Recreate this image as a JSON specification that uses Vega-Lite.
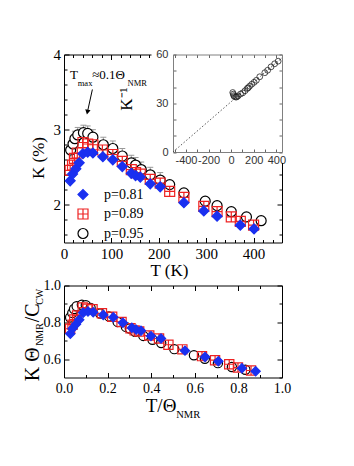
{
"$schema": "https://vega.github.io/schema/vega-lite/v6.json",
"background": "white",
"padding": {"left": 22, "top": 47.5, "right": 5, "bottom": 5},
"autosize": {"type": "pad"},
"spacing": 43,
"bounds": "flush",
"datasets": {
"main": [
{"p":"p=0.95","T":14,"K":2.73},{"p":"p=0.95","T":19,"K":2.81},{"p":"p=0.95","T":23,"K":2.88},{"p":"p=0.95","T":29,"K":2.93},{"p":"p=0.95","T":41,"K":2.96},{"p":"p=0.95","T":50,"K":2.95},{"p":"p=0.95","T":61,"K":2.90},{"p":"p=0.95","T":83,"K":2.80},{"p":"p=0.95","T":103,"K":2.75},{"p":"p=0.95","T":123,"K":2.65},{"p":"p=0.95","T":142,"K":2.56},{"p":"p=0.95","T":151,"K":2.53},{"p":"p=0.95","T":163,"K":2.47},{"p":"p=0.95","T":182,"K":2.40},{"p":"p=0.95","T":203,"K":2.33},{"p":"p=0.95","T":223,"K":2.27},{"p":"p=0.95","T":253,"K":2.16},{"p":"p=0.95","T":298,"K":2.05},{"p":"p=0.95","T":323,"K":1.99},{"p":"p=0.95","T":353,"K":1.91},{"p":"p=0.95","T":385,"K":1.84},{"p":"p=0.95","T":416,"K":1.79},
{"p":"p=0.89","T":13,"K":2.46},{"p":"p=0.89","T":18,"K":2.53},{"p":"p=0.89","T":22,"K":2.62},{"p":"p=0.89","T":28,"K":2.69},{"p":"p=0.89","T":40,"K":2.83},{"p":"p=0.89","T":50,"K":2.81},{"p":"p=0.89","T":61,"K":2.80},{"p":"p=0.89","T":81,"K":2.73},{"p":"p=0.89","T":103,"K":2.67},{"p":"p=0.89","T":123,"K":2.58},{"p":"p=0.89","T":142,"K":2.47},{"p":"p=0.89","T":151,"K":2.43},{"p":"p=0.89","T":161,"K":2.41},{"p":"p=0.89","T":182,"K":2.34},{"p":"p=0.89","T":203,"K":2.29},{"p":"p=0.89","T":223,"K":2.18},{"p":"p=0.89","T":253,"K":2.10},{"p":"p=0.89","T":295,"K":1.98},{"p":"p=0.89","T":323,"K":1.91},{"p":"p=0.89","T":353,"K":1.84},{"p":"p=0.89","T":372,"K":1.78},{"p":"p=0.89","T":400,"K":1.73},
{"p":"p=0.81","T":13,"K":2.32},{"p":"p=0.81","T":18,"K":2.41},{"p":"p=0.81","T":25,"K":2.48},{"p":"p=0.81","T":32,"K":2.56},{"p":"p=0.81","T":40,"K":2.68},{"p":"p=0.81","T":50,"K":2.70},{"p":"p=0.81","T":61,"K":2.69},{"p":"p=0.81","T":82,"K":2.64},{"p":"p=0.81","T":103,"K":2.60},{"p":"p=0.81","T":123,"K":2.51},{"p":"p=0.81","T":142,"K":2.42},{"p":"p=0.81","T":151,"K":2.39},{"p":"p=0.81","T":161,"K":2.37},{"p":"p=0.81","T":182,"K":2.28},{"p":"p=0.81","T":203,"K":2.24},{"p":"p=0.81","T":253,"K":2.03},{"p":"p=0.81","T":295,"K":1.92},{"p":"p=0.81","T":323,"K":1.85},{"p":"p=0.81","T":372,"K":1.73},{"p":"p=0.81","T":401,"K":1.68}
],
"err": [
{"T":14,"lo":2.63,"hi":2.83},{"T":19,"lo":2.71,"hi":2.91},{"T":23,"lo":2.78,"hi":2.98},{"T":29,"lo":2.83,"hi":3.03},{"T":41,"lo":2.86,"hi":3.06},{"T":50,"lo":2.85,"hi":3.05},{"T":61,"lo":2.80,"hi":3.00},{"T":83,"lo":2.70,"hi":2.90},{"T":103,"lo":2.65,"hi":2.85},{"T":123,"lo":2.55,"hi":2.75},{"T":142,"lo":2.46,"hi":2.66},{"T":151,"lo":2.43,"hi":2.63},{"T":163,"lo":2.37,"hi":2.57},{"T":182,"lo":2.30,"hi":2.50},{"T":203,"lo":2.23,"hi":2.43}
],
"scaled": [
{"p":"p=0.95","x":0.028,"y":0.826},{"p":"p=0.95","x":0.038,"y":0.851},{"p":"p=0.95","x":0.046,"y":0.872},{"p":"p=0.95","x":0.058,"y":0.887},{"p":"p=0.95","x":0.082,"y":0.896},{"p":"p=0.95","x":0.100,"y":0.893},{"p":"p=0.95","x":0.122,"y":0.878},{"p":"p=0.95","x":0.166,"y":0.848},{"p":"p=0.95","x":0.206,"y":0.832},{"p":"p=0.95","x":0.246,"y":0.802},{"p":"p=0.95","x":0.284,"y":0.775},{"p":"p=0.95","x":0.302,"y":0.766},{"p":"p=0.95","x":0.326,"y":0.748},{"p":"p=0.95","x":0.364,"y":0.726},{"p":"p=0.95","x":0.406,"y":0.705},{"p":"p=0.95","x":0.446,"y":0.687},{"p":"p=0.95","x":0.506,"y":0.654},{"p":"p=0.95","x":0.596,"y":0.621},{"p":"p=0.95","x":0.646,"y":0.602},{"p":"p=0.95","x":0.706,"y":0.578},{"p":"p=0.95","x":0.770,"y":0.557},{"p":"p=0.95","x":0.832,"y":0.542},
{"p":"p=0.89","x":0.028,"y":0.765},{"p":"p=0.89","x":0.039,"y":0.787},{"p":"p=0.89","x":0.047,"y":0.815},{"p":"p=0.89","x":0.060,"y":0.837},{"p":"p=0.89","x":0.086,"y":0.880},{"p":"p=0.89","x":0.107,"y":0.874},{"p":"p=0.89","x":0.131,"y":0.871},{"p":"p=0.89","x":0.174,"y":0.849},{"p":"p=0.89","x":0.221,"y":0.830},{"p":"p=0.89","x":0.264,"y":0.802},{"p":"p=0.89","x":0.305,"y":0.768},{"p":"p=0.89","x":0.324,"y":0.756},{"p":"p=0.89","x":0.345,"y":0.750},{"p":"p=0.89","x":0.391,"y":0.728},{"p":"p=0.89","x":0.436,"y":0.712},{"p":"p=0.89","x":0.479,"y":0.678},{"p":"p=0.89","x":0.543,"y":0.653},{"p":"p=0.89","x":0.633,"y":0.616},{"p":"p=0.89","x":0.693,"y":0.594},{"p":"p=0.89","x":0.758,"y":0.572},{"p":"p=0.89","x":0.798,"y":0.554},{"p":"p=0.89","x":0.858,"y":0.538},
{"p":"p=0.81","x":0.029,"y":0.738},{"p":"p=0.81","x":0.039,"y":0.766},{"p":"p=0.81","x":0.055,"y":0.789},{"p":"p=0.81","x":0.070,"y":0.814},{"p":"p=0.81","x":0.088,"y":0.852},{"p":"p=0.81","x":0.110,"y":0.859},{"p":"p=0.81","x":0.134,"y":0.855},{"p":"p=0.81","x":0.180,"y":0.840},{"p":"p=0.81","x":0.226,"y":0.827},{"p":"p=0.81","x":0.270,"y":0.798},{"p":"p=0.81","x":0.311,"y":0.770},{"p":"p=0.81","x":0.331,"y":0.760},{"p":"p=0.81","x":0.353,"y":0.754},{"p":"p=0.81","x":0.399,"y":0.725},{"p":"p=0.81","x":0.445,"y":0.712},{"p":"p=0.81","x":0.555,"y":0.646},{"p":"p=0.81","x":0.647,"y":0.611},{"p":"p=0.81","x":0.708,"y":0.588},{"p":"p=0.81","x":0.816,"y":0.550},{"p":"p=0.81","x":0.879,"y":0.534}
],
"inv": [
{"T":14,"Kinv":36.6},{"T":19,"Kinv":35.6},{"T":23,"Kinv":34.7},{"T":29,"Kinv":34.1},{"T":41,"Kinv":33.8},{"T":50,"Kinv":33.9},{"T":61,"Kinv":34.5},{"T":83,"Kinv":35.7},{"T":103,"Kinv":36.4},{"T":123,"Kinv":37.7},{"T":142,"Kinv":39.1},{"T":151,"Kinv":39.5},{"T":163,"Kinv":40.5},{"T":182,"Kinv":41.7},{"T":203,"Kinv":42.9},{"T":223,"Kinv":44.1},{"T":253,"Kinv":46.3},{"T":298,"Kinv":48.8},{"T":323,"Kinv":50.3},{"T":353,"Kinv":52.4},{"T":385,"Kinv":54.3},{"T":416,"Kinv":55.9}
],
"fit": [{"T":-515,"Kinv":0},{"T":450,"Kinv":58}],
"ann": [
{"text":"T","role":"main","T":12.6,"K":3.681},
{"text":"max","role":"sub","T":29,"K":3.581},
{"text":"≈0.1Θ","role":"main","T":59.5,"K":3.681},
{"text":"NMR","role":"sub","T":134,"K":3.581}
],
"arrow": [{"T":59.9,"K":3.535,"T2":49.6,"K2":3.24}],
"head": [{"T":49.4,"K":3.234}],
"ytitle": [
{"text":"K Θ","role":"main","x":-0.115,"y":0.480},
{"text":"NMR","role":"sub","x":-0.096,"y":0.672},
{"text":"/C","role":"main","x":-0.115,"y":0.800},
{"text":"CW","role":"sub","x":-0.096,"y":0.895}
],
"xtitle": [
{"text":"T/Θ","role":"main","x":0.375,"y":0.312},
{"text":"NMR","role":"sub","x":0.515,"y":0.282}
]
},
"vconcat": [
{
"width": 218, "height": 188,
"layer": [
{
"layer": [
{"data":{"name":"err"},"mark":{"type":"rule","color":"#999999","strokeWidth":1},
"encoding":{
"x":{"field":"T","type":"quantitative","scale":{"domain":[0,460],"nice":false,"zero":false},"axis":{"orient":"bottom","values":[0,100,200,300,400],"tickSize":-5,"labelPadding":9,"domain":true,"title":"T (K)","titlePadding":1,"titleX":105}},
"y":{"field":"lo","type":"quantitative","scale":{"domain":[1.5,4],"nice":false,"zero":false},"axis":{"orient":"left","values":[2,3,4],"tickSize":-5,"labelPadding":8.5,"domain":true,"title":"K (%)","titlePadding":6,"titleY":103}},
"y2":{"field":"hi"}}},
{"data":{"name":"err"},"mark":{"type":"point","shape":"stroke","size":36,"stroke":"#999999","strokeWidth":1,"opacity":1},
"encoding":{
"x":{"field":"T","type":"quantitative","scale":{"domain":[0,460],"nice":false,"zero":false},"axis":null},
"y":{"field":"hi","type":"quantitative","scale":{"domain":[1.5,4],"nice":false,"zero":false},"axis":null}}},
{"data":{"name":"main"},"mark":{"type":"point","opacity":1,"strokeWidth":1.2,"size":100},
"encoding":{
"x":{"field":"T","type":"quantitative","scale":{"domain":[0,460],"nice":false,"zero":false},"axis":{"orient":"bottom","values":[20,40,60,80,120,140,160,180,220,240,260,280,320,340,360,380,420,440],"tickSize":-3,"labels":false,"domain":false,"title":null}},
"y":{"field":"K","type":"quantitative","scale":{"domain":[1.5,4],"nice":false,"zero":false},"axis":{"orient":"left","values":[1.6,1.8,2.2,2.4,2.6,2.8,3.2,3.4,3.6,3.8],"tickSize":-3,"labels":false,"domain":false,"title":null}},
"shape":{"field":"p","type":"nominal","scale":{"domain":["p=0.81","p=0.89","p=0.95"],"range":["diamond","M-1,-1H1V1H-1Z M0,-1V1 M-1,0H1","circle"]},"legend":{"orient":"none","legendX":12,"legendY":133,"title":null,"padding":0,"rowPadding":3.5,"labelOffset":14,"labelFontSize":14,"labelFont":"Liberation Serif","labelColor":"#000","symbolStrokeWidth":1.2,"symbolSize":100}},
"fill":{"field":"p","type":"nominal","scale":{"domain":["p=0.81","p=0.89","p=0.95"],"range":["#1a30f0","transparent","#ffffff"]},"legend":{"orient":"none","legendX":12,"legendY":133,"title":null,"padding":0,"rowPadding":3.5,"labelOffset":14,"labelFontSize":14,"labelFont":"Liberation Serif","labelColor":"#000","symbolStrokeWidth":1.2,"symbolSize":100}},
"stroke":{"field":"p","type":"nominal","scale":{"domain":["p=0.81","p=0.89","p=0.95"],"range":["#1a30f0","#ee2222","#000000"]},"legend":{"orient":"none","legendX":12,"legendY":133,"title":null,"padding":0,"rowPadding":3.5,"labelOffset":14,"labelFontSize":14,"labelFont":"Liberation Serif","labelColor":"#000","symbolStrokeWidth":1.2,"symbolSize":100}}}},
{"data":{"name":"arrow"},"mark":{"type":"rule","color":"#000","strokeWidth":1},
"encoding":{
"x":{"field":"T","type":"quantitative","scale":{"domain":[0,460],"nice":false,"zero":false},"axis":null},
"y":{"field":"K","type":"quantitative","scale":{"domain":[1.5,4],"nice":false,"zero":false},"axis":null},
"x2":{"field":"T2"},"y2":{"field":"K2"}}},
{"data":{"name":"head"},"mark":{"type":"point","shape":"triangle-down","size":30,"filled":true,"color":"#000","opacity":1,"angle":12},
"encoding":{
"x":{"field":"T","type":"quantitative","scale":{"domain":[0,460],"nice":false,"zero":false},"axis":null},
"y":{"field":"K","type":"quantitative","scale":{"domain":[1.5,4],"nice":false,"zero":false},"axis":null}}}
],
"resolve":{"axis":{"x":"independent","y":"independent"}}
},
{
"layer": [
{"data":{"name":"fit"},"mark":{"type":"line","color":"#444","strokeWidth":0.9,"strokeDash":[1.5,2]},
"encoding":{
"x":{"field":"T","type":"quantitative","scale":{"domain":[-515,450],"range":[109,218],"nice":false,"zero":false},"axis":{"orient":"bottom","offset":-90.5,"values":[-500,-400,-300,-200,-100,0,100,200,300,400],"labelExpr":"datum.value % 200 === 0 ? toString(datum.value) : ''","tickSize":-3,"labelPadding":5,"labelFont":"Liberation Sans","labelFontSize":11,"labelColor":"#333","tickColor":"#666","domain":true,"domainColor":"#808080","title":null}},
"y":{"field":"Kinv","type":"quantitative","scale":{"domain":[0,60],"range":[97.5,0],"nice":false,"zero":false},"axis":{"orient":"left","offset":-109,"values":[0,10,20,30,40,50,60],"labelExpr":"datum.value % 30 === 0 ? toString(datum.value) : ''","tickSize":-3,"labelPadding":8,"labelFont":"Liberation Sans","labelFontSize":11,"labelColor":"#333","tickColor":"#666","domain":true,"domainColor":"#808080","title":"K⁻¹","titleFontSize":17,"titleX":-38,"titleY":44}}}},
{"data":{"name":"inv"},"mark":{"type":"point","size":34,"stroke":"#222","strokeWidth":0.8,"opacity":1},
"encoding":{
"x":{"field":"T","type":"quantitative","scale":{"domain":[-515,450],"range":[109,218],"nice":false,"zero":false},"axis":{"orient":"top","values":[-500,-400,-300,-200,-100,0,100,200,300,400],"tickSize":-3,"labels":false,"tickColor":"#666","domain":true,"domainColor":"#808080","title":null}},
"y":{"field":"Kinv","type":"quantitative","scale":{"domain":[0,60],"range":[97.5,0],"nice":false,"zero":false},"axis":{"orient":"right","values":[0,10,20,30,40,50,60],"tickSize":-3,"labels":false,"tickColor":"#666","domain":true,"domainColor":"#808080","title":null}}}}
],
"resolve":{"axis":{"x":"independent","y":"independent"}}
},
{"data":{"name":"ann"},"mark":{"type":"text","align":"left","baseline":"alphabetic","font":"Liberation Serif","color":"#000"},
"encoding":{
"x":{"field":"T","type":"quantitative","scale":{"domain":[0,183.5],"range":[0,87],"nice":false,"zero":false},"axis":{"orient":"top","values":[0,20,40,60,80,100,120,140,160,180],"tickSize":{"condition":{"test":"datum.value % 100 === 0","value":-5},"value":-3},"labels":false,"domain":true,"title":null}},
"y":{"field":"K","type":"quantitative","scale":{"domain":[1.5,2.564],"range":[188,108],"nice":false,"zero":false},"axis":{"orient":"right","values":[1.6,1.8,2,2.2,2.4],"tickSize":{"condition":{"test":"abs(datum.value - 2) < 0.01","value":-5},"value":-3},"labels":false,"domain":true,"title":null}},
"text":{"field":"text"},
"size":{"field":"role","type":"ordinal","scale":{"domain":["main","sub"],"range":[13,8.5]},"legend":null}}}
],
"resolve":{"scale":{"x":"independent","y":"independent"},"axis":{"x":"independent","y":"independent"}}
},
{
"width": 218, "height": 92,
"layer": [
{"data":{"name":"scaled"},"mark":{"type":"point","opacity":1,"strokeWidth":1.2,"size":85},
"encoding":{
"x":{"field":"x","type":"quantitative","scale":{"domain":[0,1],"nice":false,"zero":false},"axis":{"orient":"bottom","values":[0,0.2,0.4,0.6,0.8,1],"format":".1f","tickSize":-5,"labelPadding":8.5,"labelFontSize":14,"domain":true,"title":null}},
"y":{"field":"y","type":"quantitative","scale":{"domain":[0.5,1],"nice":false,"zero":false},"axis":{"orient":"left","values":[0.6,0.8,1],"format":".1f","tickSize":-5,"labelPadding":8.5,"labelFontSize":14,"domain":true,"title":null}},
"shape":{"field":"p","type":"nominal","scale":{"domain":["p=0.81","p=0.89","p=0.95"],"range":["diamond","M-1,-1H1V1H-1Z M0,-1V1 M-1,0H1","circle"]},"legend":null},
"fill":{"field":"p","type":"nominal","scale":{"domain":["p=0.81","p=0.89","p=0.95"],"range":["#1a30f0","transparent","#ffffff"]},"legend":null},
"stroke":{"field":"p","type":"nominal","scale":{"domain":["p=0.81","p=0.89","p=0.95"],"range":["#1a30f0","#ee2222","#000000"]},"legend":null}}},
{"data":{"name":"ytitle"},"mark":{"type":"text","align":"left","baseline":"alphabetic","angle":270,"font":"Liberation Serif","color":"#000"},
"encoding":{
"x":{"field":"x","type":"quantitative","scale":{"domain":[0,1],"nice":false,"zero":false},"axis":{"orient":"bottom","values":[0.1,0.3,0.5,0.7,0.9],"tickSize":-3,"labels":false,"domain":false,"title":null}},
"y":{"field":"y","type":"quantitative","scale":{"domain":[0.5,1],"nice":false,"zero":false},"axis":{"orient":"left","values":[0.7,0.9],"tickSize":-3,"labels":false,"domain":false,"title":null}},
"text":{"field":"text"},
"size":{"field":"role","type":"ordinal","scale":{"domain":["main","sub"],"range":[20,10]},"legend":null}}},
{"data":{"name":"xtitle"},"mark":{"type":"text","align":"left","baseline":"alphabetic","font":"Liberation Serif","color":"#000"},
"encoding":{
"x":{"field":"x","type":"quantitative","scale":{"domain":[0,1],"nice":false,"zero":false},"axis":{"orient":"top","values":[0,0.1,0.2,0.3,0.4,0.5,0.6,0.7,0.8,0.9,1],"tickSize":{"condition":{"test":"round(datum.value*10) % 2 === 0","value":-5},"value":-3},"labels":false,"domain":true,"title":null}},
"y":{"field":"y","type":"quantitative","scale":{"domain":[0.5,1],"nice":false,"zero":false},"axis":{"orient":"right","values":[0.5,0.6,0.7,0.8,0.9,1],"tickSize":{"condition":{"test":"round(datum.value*10) % 2 === 0","value":-5},"value":-3},"labels":false,"domain":true,"title":null}},
"text":{"field":"text"},
"size":{"field":"role","type":"ordinal","scale":{"domain":["main","sub"],"range":[19,10.5]},"legend":null}}}
],
"resolve":{"scale":{"size":"independent"},"axis":{"x":"independent","y":"independent"}}
}
],
"resolve":{"scale":{"x":"independent","y":"independent","shape":"independent","fill":"independent","stroke":"independent","size":"independent"}},
"config": {
"font": "Liberation Serif",
"view": {"stroke": null},
"axis": {"grid": false, "domain": false, "labelFont": "Liberation Serif", "labelFontSize": 15, "labelColor": "#000", "titleFont": "Liberation Serif", "titleFontWeight": "normal", "titleColor": "#000", "titleFontSize": 17, "tickColor": "#000", "tickWidth": 1, "domainColor": "#000", "domainWidth": 1, "labelFlush": false, "labelOverlap": false, "labelBound": false}
}
}
